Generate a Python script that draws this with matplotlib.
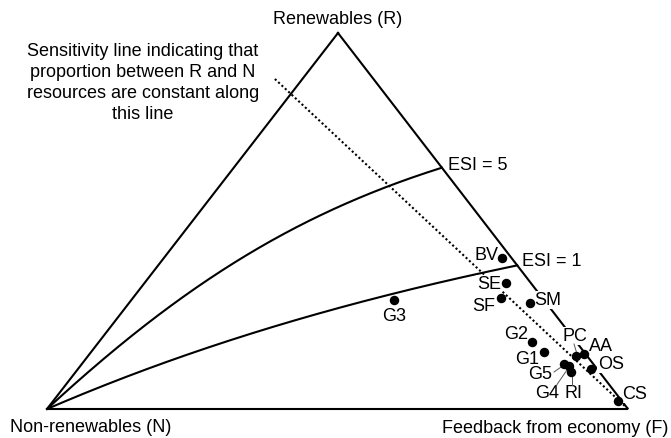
import numpy as np
import matplotlib
matplotlib.use("Agg")
import matplotlib.pyplot as plt

plt.rcParams['font.family'] = ['Liberation Sans', 'DejaVu Sans']

# sample points, ternary shares (renewable r, non-renewable n, feedback f)
names = ["BV", "SE", "SF", "SM", "G3", "G2", "G1", "PC", "AA", "OS", "G5", "G4", "RI", "CS"]
r_share = [0.401, 0.335, 0.294, 0.282, 0.289, 0.179, 0.151, 0.140, 0.145, 0.106, 0.120, 0.114, 0.099, 0.020]
f_share = [0.582, 0.622, 0.634, 0.690, 0.452, 0.745, 0.780, 0.841, 0.852, 0.883, 0.830, 0.842, 0.853, 0.972]

esi_levels = [5, 1]
sens_r_ratio = 0.838   # r/(r+n) kept constant along the sensitivity line

# triangle corners in pixel space
R_xy = (338, 34)
N_xy = (47, 410)
F_xy = (628, 410)


def tern(r, f):
    r = np.asarray(r, float)
    f = np.asarray(f, float)
    n = 1 - r - f
    x = r * R_xy[0] + n * N_xy[0] + f * F_xy[0]
    y = r * R_xy[1] + n * N_xy[1] + f * F_xy[1]
    return x, y


fig = plt.figure(figsize=(6.71, 4.39), dpi=100)
ax = fig.add_axes([0, 0, 1, 1])
ax.set_xlim(0, 671)
ax.set_ylim(439, 0)
ax.axis('off')

fs = 13

# triangle
tx, ty = tern([1, 0, 0, 1], [0, 0, 1, 0])
ax.plot(tx, ty, color='black', lw=1.5, zorder=2, solid_joinstyle='miter')

# ESI curves: ESI = r / (f (1 - r))
for E in esi_levels:
    f_edge = (-1 + np.sqrt(1 + 4 * E)) / (2 * E)
    ff = np.linspace(0, f_edge, 200)
    rr = E * ff / (1 + E * ff)
    cx, cy = tern(rr, ff)
    ax.plot(cx, cy, color='black', lw=1.5, zorder=2)

# sensitivity line from F vertex, slightly past the R-N edge
ff = np.array([1.0, -0.05])
rr = (1 - ff) * sens_r_ratio
sx, sy = tern(rr, ff)
ax.plot(sx, sy, color='black', lw=1.5, ls=(0, (1, 1.2)), zorder=2)

# points
px, py = tern(r_share, f_share)
ax.plot(px, py, 'o', color='black', ms=5.8, zorder=5)

# label positions (pixel centres)
label_pos = {
    "BV": (487, 256), "SE": (489, 285), "SF": (484, 307), "SM": (548, 301),
    "G3": (394, 317), "G2": (516, 335), "G1": (527, 360), "PC": (575, 337),
    "AA": (601, 347), "OS": (611, 365), "G5": (540, 375), "G4": (547, 394),
    "RI": (574, 394), "CS": (635, 395),
}
for nm in names:
    lx, ly = label_pos[nm]
    ax.text(lx, ly, nm, ha='center', va='center', fontsize=fs, zorder=4,
            bbox=dict(facecolor='white', edgecolor='none', pad=0.6))

# leader lines
leaders = [((574, 345), (577, 355)), ((554, 373), (564, 366)),
           ((556, 387), (569, 368)), ((572, 386), (572, 374))]
for (x0, y0), (x1, y1) in leaders:
    ax.plot([x0, x1], [y0, y1], color='#555555', lw=0.7, zorder=4)

ax.text(448, 166, "ESI = 5", ha='left', va='center', fontsize=fs)
ax.text(522, 262, "ESI = 1", ha='left', va='center', fontsize=fs)

ax.text(338, 19, "Renewables (R)", ha='center', va='center', fontsize=fs)
ax.text(10, 428, "Non-renewables (N)", ha='left', va='center', fontsize=fs)
ax.text(668, 429, "Feedback from economy (F)", ha='right', va='center', fontsize=fs)

ax.text(143, 83, "Sensitivity line indicating that\nproportion between R and N\n"
        "resources are constant along\nthis line",
        ha='center', va='center', fontsize=fs, linespacing=1.3)

fig.savefig("out.png", dpi=100)
